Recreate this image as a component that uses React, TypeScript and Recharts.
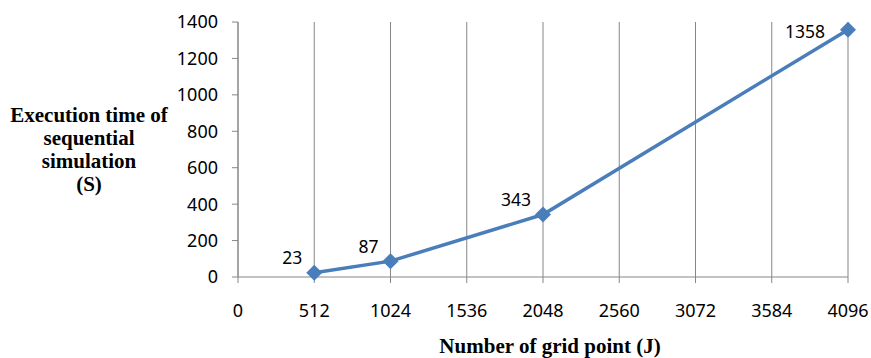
import React from 'react'
import { CartesianGrid, LineChart, Line, XAxis, YAxis } from 'recharts';

const gridPoints = [512, 1024, 2048, 4096];
const execTimes = [23, 87, 343, 1358];
const xTicks = [0, 512, 1024, 1536, 2048, 2560, 3072, 3584, 4096];
const yTicks = [0, 200, 400, 600, 800, 1000, 1200, 1400];
const yTitleLines = ['Execution time of', 'sequential', 'simulation', '(S)'];
const xTitle = 'Number of grid point (J)';

const LINE_COLOR = '#4A7EBB';
const AXIS_COLOR = '#868686';

const data = gridPoints.map((g, i) => ({ grid: g, time: execTimes[i] }));

const Diamond = (props: any) => {
    const { cx, cy } = props;
    if (cx == null || cy == null) return null;
    const r = 8;
    return (
        <path d={`M${cx},${cy - r}L${cx + r},${cy}L${cx},${cy + r}L${cx - r},${cy}Z`} fill={LINE_COLOR} />
    );
};

const PointLabel = (props: any) => {
    const { x, y, value } = props;
    // the top label sits beside the marker instead of above it
    const nearTop = y - 15 < 30;
    const right = nearTop ? x - 23 : x - 12;
    const mid = nearTop ? y + 2 : y - 15;
    return (
        <text x={right} y={mid + 6.5} textAnchor="end" fontFamily="Noto Sans" fontSize={17.5} fill="#000">
            {value}
        </text>
    );
};

const App = () => {
    return (
        <div style={{ position: 'absolute', left: 0, top: 0, width: 871, height: 358, background: '#fff' }}>
            <LineChart width={871} height={358} data={data} margin={{ top: 22, right: 23, bottom: 0, left: 0 }}>
                <CartesianGrid horizontal={false} stroke={AXIS_COLOR} strokeWidth={1} />
                <XAxis
                    dataKey="grid"
                    type="number"
                    domain={[0, 4096]}
                    ticks={xTicks}
                    height={81}
                    tickSize={6}
                    tickMargin={21}
                    stroke={AXIS_COLOR}
                    tick={{ fontFamily: 'Noto Sans', fontSize: 18, fill: '#000' }}
                />
                <YAxis
                    type="number"
                    domain={[0, 1400]}
                    ticks={yTicks}
                    width={238}
                    tickSize={6}
                    tickMargin={14}
                    stroke={AXIS_COLOR}
                    tick={{ fontFamily: 'Noto Sans', fontSize: 18, fill: '#000' }}
                />
                <Line
                    dataKey="time"
                    stroke={LINE_COLOR}
                    strokeWidth={3.5}
                    dot={<Diamond />}
                    activeDot={false}
                    isAnimationActive={false}
                    label={<PointLabel />}
                />
                <text fontFamily="Liberation Serif" fontWeight="bold" fontSize={21} fill="#000" textAnchor="middle">
                    {yTitleLines.map((line, i) => (
                        <tspan key={line} x={89} y={122 + i * 23}>{line}</tspan>
                    ))}
                </text>
                <text x={550} y={353} fontFamily="Liberation Serif" fontWeight="bold" fontSize={21} fill="#000" textAnchor="middle">
                    {xTitle}
                </text>
            </LineChart>
        </div>
    )
}

export default App
